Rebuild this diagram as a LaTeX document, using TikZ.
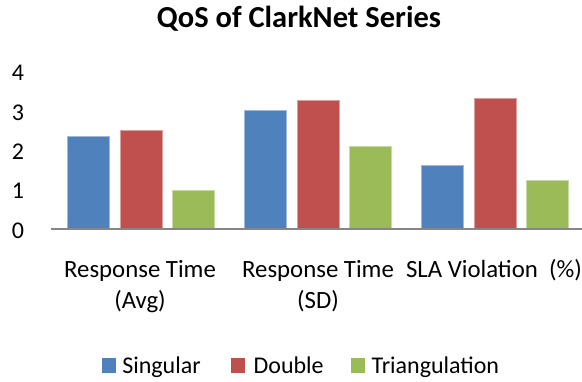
\documentclass[tikz,border=0pt]{standalone}
\usepackage{fontspec}
\setmainfont{Carlito}
\usetikzlibrary{positioning}
\definecolor{singularblue}{HTML}{4F81BD}
\definecolor{doublered}{HTML}{C0504D}
\definecolor{triangreen}{HTML}{9BBB59}
\definecolor{axisgray}{HTML}{868686}
\tikzset{
	bar/.style={fill=#1, draw=#1!55!white, line width=0.7pt},
	chart text/.style={font=\fontsize{24}{31}\selectfont, inner sep=0pt},
	category/.style={chart text, font=\fontsize{24.8}{31}\selectfont, align=center, anchor=base},
	legend box/.style={fill=#1, minimum width=14pt, minimum height=15pt, inner sep=0pt}
}

\begin{document}
\begin{tikzpicture}[x=1pt,y=1pt]

			\useasboundingbox (-51,-152) rectangle (531,229);

			% Title
			\node[chart text, font=\fontsize{30.5}{34}\selectfont\bfseries, anchor=base] (title) at (248,201) {QoS of ClarkNet Series};

			% Value labels
			\foreach \v in {0,...,4} {
					\node[chart text, anchor=base] (tick\v) at (-33,{39.3*\v-9}) {\v};
				}

			% Draw the bars
			\foreach \g/\s/\d/\t in {0/2.36/2.50/0.99, 1/3.03/3.28/2.11, 2/1.63/3.33/1.25} {
					\draw[bar=singularblue] ({177*\g+16.7},0) rectangle ++(42,{39.3*\s});
					\draw[bar=doublered] ({177*\g+69.7},0) rectangle ++(42,{39.3*\d});
					\draw[bar=triangreen] ({177*\g+121.3},0) rectangle ++(42,{39.3*\t});
				}

			% Draw the axis
			\draw[axisgray, line width=1.8pt] (0,0) -- (531,0);

			% Category labels (base = last line)
			\node[category] (cat0) at (89,-79.3) {Response Time\\(Avg)};
			\node[category] (cat1) at (267,-79.3) {Response Time\\(SD)};
			\node[category] (cat2) at (443,-48.3) {SLA Violation\ \ (\%)};

			% Legend
			\node[legend box=singularblue, anchor=south west] (sglbox) at (51,-144) {};
			\node[chart text, anchor=base west] (sgl) at ([xshift=5.7pt]sglbox.south east) {Singular};
			\node[legend box=doublered, anchor=south west] (dblbox) at (180,-144) {};
			\node[chart text, anchor=base west] (dbl) at ([xshift=8pt]dblbox.south east) {Double};
			\node[legend box=triangreen, anchor=south west] (trgbox) at (300,-144) {};
			\node[chart text, anchor=base west] (trg) at ([xshift=6pt]trgbox.south east) {Triangulation};
		\end{tikzpicture}
\end{document}
